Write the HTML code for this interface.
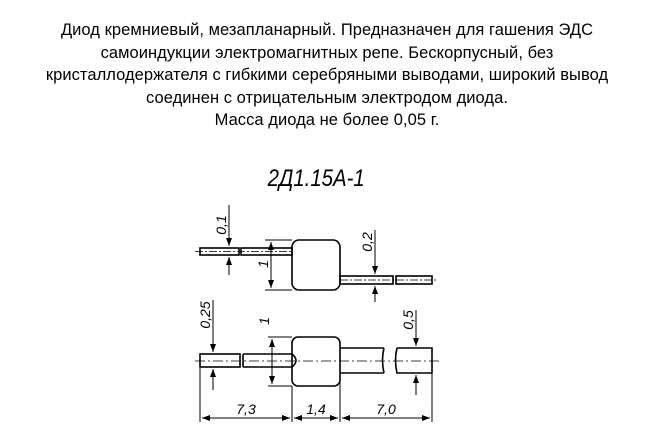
<!DOCTYPE html>
<html><head><meta charset="utf-8"><style>
html,body{margin:0;padding:0;background:#fff;width:654px;height:446px;overflow:hidden}
.t{position:absolute;left:0;width:654px;text-align:center;font-family:"Liberation Sans",sans-serif;font-size:16.5px;letter-spacing:0.05px;color:#000;line-height:22.5px}
</style></head><body>
<div class="t" style="top:19px">Диод кремниевый, мезапланарный. Предназначен для гашения ЭДС<br>самоиндукции электромагнитных репе. Бескорпусный, без<br>кристаллодержателя с гибкими серебряными выводами, широкий вывод<br>соединен с отрицательным электродом диода.<br>Масса диода не более 0,05 г.</div>
<svg width="654" height="446" style="position:absolute;left:0;top:0" xmlns="http://www.w3.org/2000/svg">
<defs><marker id="a" markerWidth="8" markerHeight="6" refX="8" refY="3" orient="auto" markerUnits="userSpaceOnUse"><path d="M0,0 L8,3 L0,6 z" fill="#000"/></marker></defs>
<g font-family="Liberation Sans,sans-serif" font-style="italic" fill="#000">
<text x="316" y="186" font-size="24" text-anchor="middle" transform="scale(0.85,1) translate(56,0)">2Д1.15А-1</text>
</g>
<g stroke="#000" stroke-width="1.6" fill="none">
<rect x="200" y="248" width="39" height="7"/>
<rect x="241" y="248" width="51" height="7"/>
<rect x="292" y="240" width="48" height="50" rx="7"/>
<rect x="340" y="276" width="53" height="8"/>
<rect x="396" y="276" width="36" height="8"/>
<line x1="195" y1="251.5" x2="292" y2="251.5" stroke-width="0.7" stroke-dasharray="8,2,2,2"/>
<line x1="340" y1="280" x2="438" y2="280" stroke-width="0.7" stroke-dasharray="8,2,2,2"/>
<line x1="229" y1="205" x2="229" y2="246" stroke-width="1" marker-end="url(#a)"/>
<line x1="229" y1="275" x2="229" y2="257" stroke-width="1" marker-end="url(#a)"/>
<line x1="265" y1="240" x2="292" y2="240" stroke-width="1"/>
<line x1="265" y1="290" x2="292" y2="290" stroke-width="1"/>
<line x1="271" y1="265" x2="271" y2="242" stroke-width="1" marker-end="url(#a)"/>
<line x1="271" y1="265" x2="271" y2="288" stroke-width="1" marker-end="url(#a)"/>
<line x1="375" y1="230" x2="375" y2="274" stroke-width="1" marker-end="url(#a)"/>
<line x1="375" y1="302" x2="375" y2="286" stroke-width="1" marker-end="url(#a)"/>
<rect x="200" y="354" width="40" height="13"/>
<path d="M243,354 H292 M243,367 H292 M243,354 V367"/>
<path d="M292,354 Q300,360.5 292,367"/>
<rect x="292" y="337" width="48" height="49" rx="6"/>
<path d="M340,348 H384 M340,373 H384 M384,348 Q381,360 384,373"/>
<path d="M397,348 H432 V373 H397 Q394,360 397,348"/>
<line x1="195" y1="361" x2="440" y2="361" stroke-width="0.7" stroke-dasharray="10,3,2,3"/>
<line x1="213" y1="300" x2="213" y2="352" stroke-width="1" marker-end="url(#a)"/>
<line x1="213" y1="390" x2="213" y2="369" stroke-width="1" marker-end="url(#a)"/>
<line x1="268" y1="337" x2="292" y2="337" stroke-width="1"/>
<line x1="268" y1="386" x2="292" y2="386" stroke-width="1"/>
<line x1="272" y1="361" x2="272" y2="339" stroke-width="1" marker-end="url(#a)"/>
<line x1="272" y1="361" x2="272" y2="384" stroke-width="1" marker-end="url(#a)"/>
<line x1="416" y1="310" x2="416" y2="346" stroke-width="1" marker-end="url(#a)"/>
<line x1="416" y1="395" x2="416" y2="375" stroke-width="1" marker-end="url(#a)"/>
<line x1="200" y1="368" x2="200" y2="422" stroke-width="1"/>
<line x1="292" y1="386" x2="292" y2="422" stroke-width="1"/>
<line x1="340" y1="373" x2="340" y2="422" stroke-width="1"/>
<line x1="432" y1="373" x2="432" y2="422" stroke-width="1"/>
<line x1="246" y1="418" x2="202" y2="418" stroke-width="1" marker-end="url(#a)"/>
<line x1="246" y1="418" x2="290" y2="418" stroke-width="1" marker-end="url(#a)"/>
<line x1="316" y1="418" x2="294" y2="418" stroke-width="1" marker-end="url(#a)"/>
<line x1="316" y1="418" x2="338" y2="418" stroke-width="1" marker-end="url(#a)"/>
<line x1="386" y1="418" x2="342" y2="418" stroke-width="1" marker-end="url(#a)"/>
<line x1="386" y1="418" x2="430" y2="418" stroke-width="1" marker-end="url(#a)"/>
</g>
<g font-family="Liberation Sans,sans-serif" font-style="italic" font-size="14" fill="#000">
<text transform="translate(226,225) rotate(-90)" text-anchor="middle">0,1</text>
<text transform="translate(268,264) rotate(-90)" text-anchor="middle">1</text>
<text transform="translate(372,242) rotate(-90)" text-anchor="middle">0,2</text>
<text transform="translate(210,315) rotate(-90)" text-anchor="middle">0,25</text>
<text transform="translate(269,321) rotate(-90)" text-anchor="middle">1</text>
<text transform="translate(413,320) rotate(-90)" text-anchor="middle">0,5</text>
<text x="246" y="414" text-anchor="middle">7,3</text>
<text x="316" y="414" text-anchor="middle">1,4</text>
<text x="386" y="414" text-anchor="middle">7,0</text>
</g>
</svg>
</body></html>
